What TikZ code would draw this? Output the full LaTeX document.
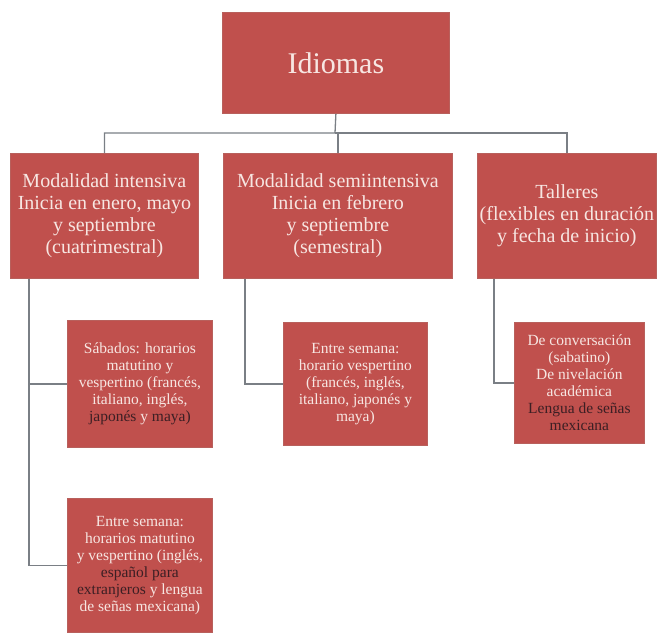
\documentclass[tikz,border=0pt]{standalone}
\usepackage{fontspec}
\setmainfont{Liberation Serif}
\usetikzlibrary{positioning}
\definecolor{boxred}{HTML}{C0504D}
\definecolor{boxline}{HTML}{B8605C}
\definecolor{boxtext}{HTML}{F7E6E2}
\definecolor{darktext}{HTML}{3C1F24}
\definecolor{linkgray}{HTML}{7A7F85}
\newcommand{\dk}[1]{{\color{darktext}#1}}
\begin{document}
\begin{tikzpicture}[x=1pt,y=-1pt,
    box/.style={draw=boxline,line width=0.8pt,fill=boxred,text=boxtext,
                align=center,inner sep=2pt,anchor=north west},
    top/.style={box,font=\fontsize{30}{34}\selectfont},
    mode/.style={box,font=\fontsize{20}{22}\selectfont},
    detail/.style={box,font=\fontsize{15.5}{17}\selectfont},
    link/.style={draw=linkgray,line width=1.3pt}]
    \useasboundingbox (0,0) rectangle (657,633);

    \node[top,minimum width=227pt,minimum height=101pt] (idiomas) at (222,12) {Idiomas};

    \node[mode,minimum width=188pt,minimum height=125pt] (intensiva) at (10,153)
        {Modalidad intensiva\\Inicia en enero, mayo\\y septiembre\\(cuatrimestral)};
    \node[mode,minimum width=229pt,minimum height=125pt] (semi) at (223,153)
        {Modalidad semiintensiva\\Inicia en febrero\\y septiembre\\(semestral)};
    \node[mode,minimum width=179pt,minimum height=125pt] (talleres) at (477,153)
        {Talleres\\(flexibles en duración\\y fecha de inicio)};

    \node[detail,minimum width=145pt,minimum height=127pt] (sabados) at (67,320)
        {Sábados: horarios\\matutino y\\vespertino (francés,\\italiano, inglés,\\\dk{japonés} y \dk{maya)}};
    \node[detail,minimum width=145pt,minimum height=134pt] (semanaint) at (67,498)
        {Entre semana:\\horarios matutino\\y vespertino (inglés,\\\dk{español para}\\\dk{extranjeros} y lengua\\de señas mexicana)};
    \node[detail,minimum width=144pt,minimum height=123pt] (semanasemi) at (283,322)
        {Entre semana:\\horario vespertino\\(francés, inglés,\\italiano, japonés y\\maya)};
    \node[detail,minimum width=130pt,minimum height=121pt] (conversacion) at (514,322)
        {De conversación\\(sabatino)\\De nivelación\\académica\\\dk{Lengua de señas}\\\dk{mexicana}};

    \coordinate (bus) at (335,133);
    \draw[link] (idiomas.south) -- (bus) -| (intensiva.north);
    \draw[link] (bus) -| (semi.north);
    \draw[link] (bus) -| (talleres.north);

    \draw[link] ([xshift=19pt]intensiva.south west) |- (sabados.west);
    \draw[link] ([xshift=19pt]intensiva.south west) |- (semanaint.west);
    \draw[link] ([xshift=22pt]semi.south west) |- (semanasemi.west);
    \draw[link] ([xshift=17pt]talleres.south west) |- (conversacion.west);
\end{tikzpicture}
\end{document}
